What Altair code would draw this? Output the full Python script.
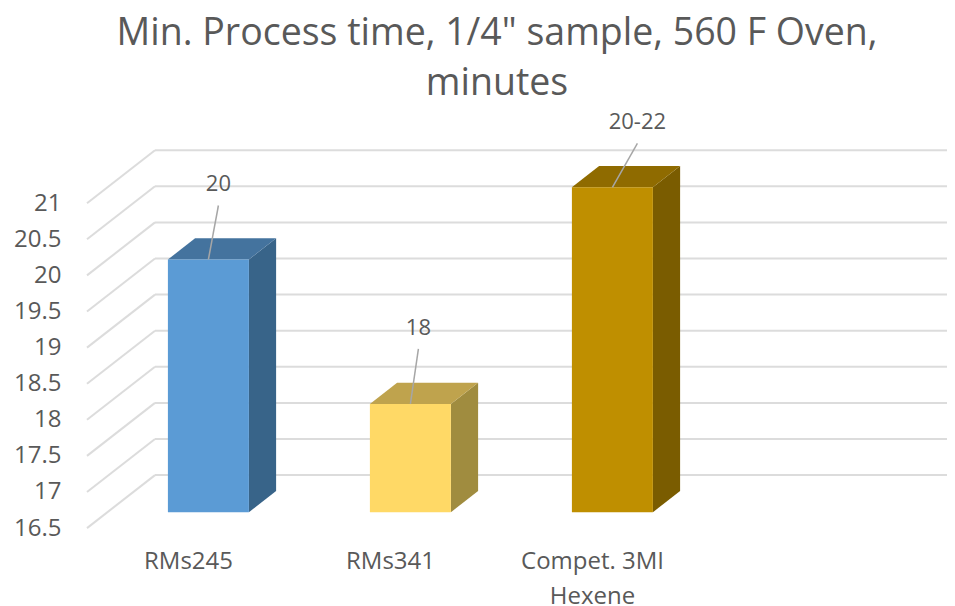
import altair as alt
import pandas as pd

title_lines = ['Min. Process time, 1/4" sample, 560 F Oven,', "minutes"]
categories = ["RMs245", "RMs341", "Compet. 3MI Hexene"]
values = [20, 18, 21]
labels = ["20", "18", "20-22"]
tick_values = [16.5, 17, 17.5, 18, 18.5, 19, 19.5, 20, 20.5, 21]

front_colors = ["#5b9bd5", "#ffd966", "#bf8f00"]
top_colors = ["#44739e", "#bfa34d", "#8f6b00"]
side_colors = ["#386489", "#a08c3f", "#7a5c00"]

TEXT = "#595959"
FONT = "Open Sans"
BASE = 16.5
X_MIN, X_MAX = -0.5, 3.5
Y_MAX = 22
UX, UY = 202.0, 72.2            # px per x unit / y unit
DX, DY = 68 / UX, 53 / UY       # depth of the floor, in scale units
D_FRONT, D_BACK = 0.30, 0.70    # bar position within the depth
HALF = 40.5 / UX
WALL_END = X_MAX + DX

# label anchor relative to the bar's front top centre, in px
leader_dx = [10, 8, 25]
leader_dy = [54, 55, 44]
label_rise = 21

xs = alt.Scale(domain=[X_MIN, X_MAX], nice=False, zero=False)
ys = alt.Scale(domain=[BASE, Y_MAX], nice=False, zero=False)

x_label_expr = (
    "datum.value == 0 ? '%s' : datum.value == 1 ? '%s' : ['Compet. 3MI', 'Hexene']"
    % (categories[0], categories[1])
)
x_axis = alt.Axis(
    values=[0, 1, 2], labelExpr=x_label_expr, domain=False, ticks=False, grid=False,
    labelFont=FONT, labelFontSize=24, labelColor=TEXT, labelPadding=21,
    labelLimit=300, labelOverlap=False, labelLineHeight=35, labelAlign="center", title=None,
)
y_axis = alt.Axis(
    values=tick_values, domain=False, ticks=False, grid=False, format="~g",
    labelFont=FONT, labelFontSize=24, labelColor=TEXT, labelPadding=26,
    labelOverlap=False, labelFlush=False, title=None,
)


def X(field, **kw):
    return alt.X(field, type="quantitative", scale=xs, axis=x_axis, **kw)


def Y(field, **kw):
    return alt.Y(field, type="quantitative", scale=ys, axis=y_axis, **kw)


grid = pd.DataFrame({"v": tick_values})
grid["x0"] = X_MIN
grid["x1"] = X_MIN + DX
grid["x2"] = WALL_END
grid["yb"] = grid["v"] + DY

GRID = dict(color="#dcdcdc", strokeWidth=2)
diag = alt.Chart(grid).mark_rule(**GRID).encode(
    x=X("x0"), x2="x1:Q", y=Y("v"), y2="yb:Q"
)
wall = alt.Chart(grid).mark_rule(**GRID).encode(
    x=X("x1"), x2="x2:Q", y=Y("yb")
)

front_rows, top_rows, side_rows, leader_rows = [], [], [], []
for i, (cat, v) in enumerate(zip(categories, values)):
    left = i - HALF
    right = i + HALF
    fx, fy = D_FRONT * DX, D_FRONT * DY
    bx, by = D_BACK * DX, D_BACK * DY
    front_rows.append(dict(cat=cat, x=left + fx, x2=right + fx, y=v + fy, y2=BASE + fy, fill=front_colors[i]))
    top_rows.append(dict(cat=cat, y=v + fy, x=left + fx, x2=right + fx, fill=top_colors[i]))
    top_rows.append(dict(cat=cat, y=v + by, x=left + bx, x2=right + bx, fill=top_colors[i]))
    side_rows.append(dict(cat=cat, x=right + fx, y=v + fy, y2=BASE + fy, fill=side_colors[i]))
    side_rows.append(dict(cat=cat, x=right + bx, y=v + by, y2=BASE + by, fill=side_colors[i]))
    lx = i + fx + leader_dx[i] / UX
    ly = v + fy + leader_dy[i] / UY
    leader_rows.append(dict(cat=cat, x=i + fx, x2=lx, y=v + fy, y2=ly,
                            lx=lx, ly=ly + label_rise / UY, label=labels[i]))

front_df = pd.DataFrame(front_rows)
top_df = pd.DataFrame(top_rows)
side_df = pd.DataFrame(side_rows)
leader_df = pd.DataFrame(leader_rows)

fill = alt.Color("fill:N", scale=None)

front = alt.Chart(front_df).mark_rect().encode(
    x=X("x"), x2="x2:Q", y=Y("y"), y2="y2:Q", color=fill
)
top = alt.Chart(top_df).mark_area(orient="horizontal").encode(
    y=Y("y"), x=X("x"), x2="x2:Q", color=fill, detail="cat:N"
)
side = alt.Chart(side_df).mark_area(orient="vertical").encode(
    x=X("x"), y=Y("y"), y2="y2:Q", color=fill, detail="cat:N"
)
leader = alt.Chart(leader_df).mark_rule(color="#a6a6a6", strokeWidth=1.5).encode(
    x=X("x"), x2="x2:Q", y=Y("y"), y2="y2:Q"
)
label = alt.Chart(leader_df).mark_text(font=FONT, fontSize=22, color=TEXT).encode(
    x=X("lx"), y=Y("ly"), text="label:N"
)

chart = (
    alt.layer(diag, wall, side, top, front, leader, label)
    .properties(
        width=int((X_MAX - X_MIN) * UX),
        height=(Y_MAX - BASE) * UY,
        title=alt.TitleParams(
            text=title_lines, font=FONT, fontSize=37.5, fontWeight="normal", color=TEXT,
            anchor="middle", lineHeight=50, offset=9, dx=6,
        ),
        autosize=alt.AutoSizeParams(type="none"),
        padding={"left": 79, "top": 123, "right": 52, "bottom": 78},
        background="white",
    )
    .configure_view(stroke=None)
)

chart.save("out.html", embed_options={"renderer": "svg", "actions": False})
